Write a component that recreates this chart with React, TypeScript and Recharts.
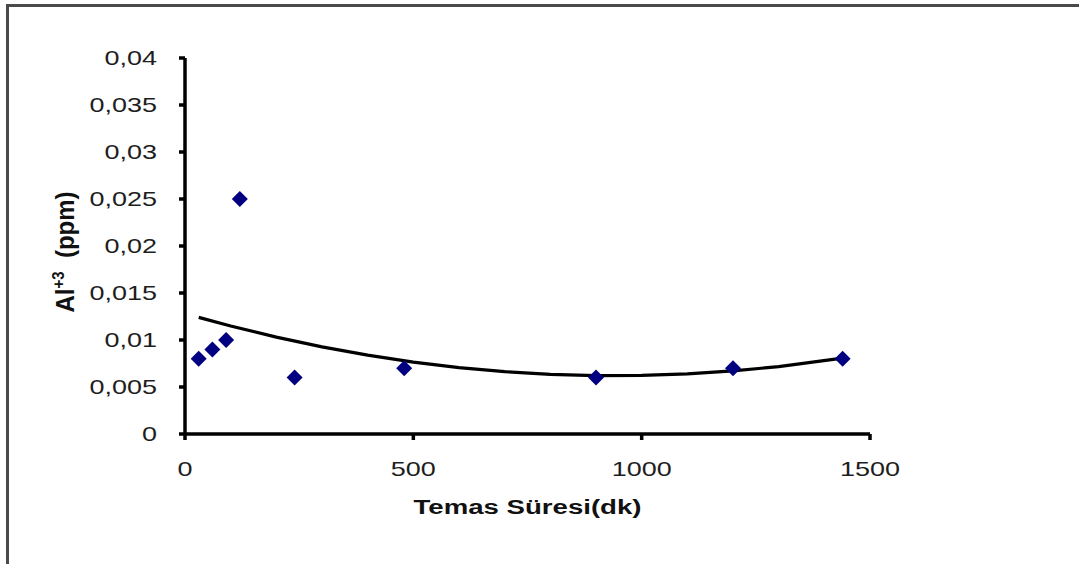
import React from "react";
import { ScatterChart, Scatter, XAxis, YAxis, Label } from "recharts";

// Measured points: contact time (min) vs Al+3 (ppm)
const times = [30, 60, 90, 120, 240, 480, 900, 1200, 1440];
const alValues = [0.008, 0.009, 0.01, 0.025, 0.006, 0.007, 0.006, 0.007, 0.008];

// Trend curve (2nd-order polynomial trendline)
const trendX = [30, 100, 200, 300, 400, 500, 600, 700, 800, 900, 1000, 1100, 1200, 1300, 1440];
const trendY = [0.01241, 0.01149, 0.01031, 0.00927, 0.00839, 0.00765, 0.00707, 0.00663, 0.00635, 0.00621, 0.00623, 0.00639, 0.00671, 0.00717, 0.00808];

const xTicks = [0, 500, 1000, 1500];
const yTicks = [0, 0.005, 0.01, 0.015, 0.02, 0.025, 0.03, 0.035, 0.04];
const yTickLabels = ["0", "0,005", "0,01", "0,015", "0,02", "0,025", "0,03", "0,035", "0,04"];

const points = times.map((x, i) => ({ x, y: alValues[i] }));
const trend = trendX.map((x, i) => ({ x, y: trendY[i] }));

const FONT = "'Liberation Sans', Arial, Helvetica, sans-serif";
const STRETCH = 1.35;
const TEXT_COLOR = "#1e1e1e";

const XTick = (props: any) => {
  const { x, y, payload } = props;
  return (
    <g transform={`translate(${x} ${y}) scale(${STRETCH} 1)`}>
      <text x={0} y={0} dy={14} textAnchor="middle" fontFamily={FONT} fontSize={20} fill={TEXT_COLOR}>
        {String(payload.value)}
      </text>
    </g>
  );
};

const YTick = (props: any) => {
  const { x, y, payload } = props;
  const idx = yTicks.findIndex((t) => Math.abs(t - payload.value) < 1e-9);
  const label = idx >= 0 ? yTickLabels[idx] : String(payload.value).replace(".", ",");
  return (
    <g transform={`translate(${x} ${y}) scale(${STRETCH} 1)`}>
      <text x={0} y={0} dy={7} textAnchor="end" fontFamily={FONT} fontSize={20} fill={TEXT_COLOR}>
        {label}
      </text>
    </g>
  );
};

const Diamond = (props: any) => {
  const { cx, cy } = props;
  if (cx == null || cy == null) return <g />;
  const r = 8;
  return (
    <polygon
      points={`${cx},${cy - r} ${cx + r},${cy} ${cx},${cy + r} ${cx - r},${cy}`}
      fill="#000080"
    />
  );
};

const NoDot = () => <g />;

const XTitle = (props: any) => {
  const vb = props.viewBox || { x: 185, y: 434, width: 685, height: 100 };
  const cx = vb.x + vb.width / 2;
  const y = vb.y + 80;
  return (
    <g transform={`translate(${cx} ${y}) scale(1.38 1)`}>
      <text x={0} y={0} textAnchor="middle" fontFamily={FONT} fontWeight="bold" fontSize={20} fill="#111">
        Temas Süresi(dk)
      </text>
    </g>
  );
};

const YTitle = () => {
  const x = 74;
  const cy = 252;
  return (
    <g transform={`translate(${x} ${cy}) rotate(-90) scale(1 1.1)`}>
      <text x={0} y={0} textAnchor="middle" fontFamily={FONT} fontWeight="bold" fontSize={24} fill="#111">
        Al
        <tspan fontSize={15} dy={-9}>+3</tspan>
        <tspan dy={9}>{"\u00a0\u00a0(ppm)"}</tspan>
      </text>
    </g>
  );
};

export default function App() {
  return (
    <div
      style={{
        position: "absolute",
        left: 0,
        top: 0,
        width: 1079,
        height: 564,
        overflow: "hidden",
        background: "#fff",
      }}
    >
      <div
        style={{
          position: "absolute",
          left: 6,
          top: 4,
          width: 2000,
          height: 2000,
          borderTop: "3px solid #4a4a4a",
          borderLeft: "3px solid #4a4a4a",
        }}
      />
      <div style={{ position: "absolute", left: 0, top: 0 }}>
        <ScatterChart
          width={1079}
          height={564}
          margin={{ top: 58, right: 209, bottom: 30, left: 85 }}
        >
          <XAxis
            type="number"
            dataKey="x"
            domain={[0, 1500]}
            ticks={xTicks}
            allowDataOverflow
            height={100}
            axisLine={{ stroke: "#000", strokeWidth: 3.5 }}
            tickLine={{ stroke: "#000", strokeWidth: 3.5 }}
            tickSize={6}
            tickMargin={22}
            tick={<XTick />}
            interval={0}
          >
            <Label content={<XTitle />} />
          </XAxis>
          <YAxis
            type="number"
            dataKey="y"
            domain={[0, 0.04]}
            ticks={yTicks}
            allowDataOverflow
            width={100}
            axisLine={{ stroke: "#000", strokeWidth: 3.5 }}
            tickLine={{ stroke: "#000", strokeWidth: 3.5 }}
            tickSize={6}
            tickMargin={22}
            tick={<YTick />}
            interval={0}
          >
            <Label content={<YTitle />} />
          </YAxis>
          <Scatter
            data={trend}
            line={{ stroke: "#000", strokeWidth: 3.2 }}
            lineType="joint"
            shape={<NoDot />}
            isAnimationActive={false}
            legendType="none"
          />
          <Scatter
            data={points}
            shape={<Diamond />}
            fill="#000080"
            isAnimationActive={false}
            legendType="none"
          />
        </ScatterChart>
      </div>
    </div>
  );
}
